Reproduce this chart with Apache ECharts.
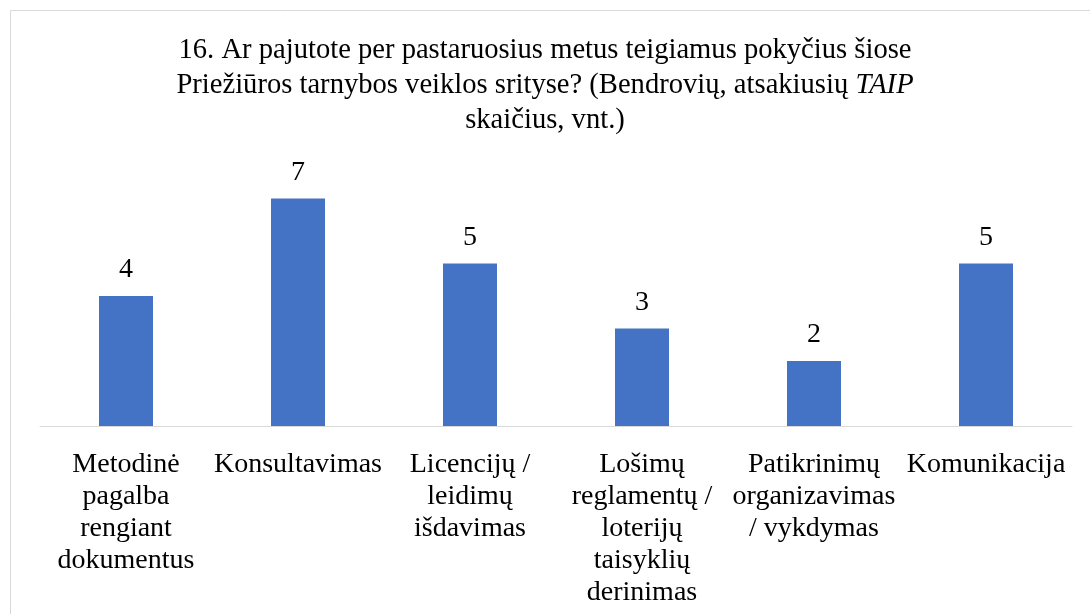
<!DOCTYPE html>
<html>
<head>
<meta charset="utf-8">
<script src="https://cdn.jsdelivr.net/npm/echarts@6/dist/echarts.min.js"></script>
<style>
  html, body { margin: 0; padding: 0; background: #fff; }
  #chart { width: 1090px; height: 614px; }
</style>
</head>
<body>
<div id="chart"></div>
<script>
var categories = [
  'Metodinė\npagalba\nrengiant\ndokumentus',
  'Konsultavimas',
  'Licencijų /\nleidimų\nišdavimas',
  'Lošimų\nreglamentų /\nloterijų\ntaisyklių\nderinimas',
  'Patikrinimų\norganizavimas\n/ vykdymas',
  'Komunikacija'
]
var values = [4, 7, 5, 3, 2, 5]

var FONT = '"Liberation Serif", "Times New Roman", serif'

var chart = echarts.init(document.getElementById('chart'))
chart.setOption({
  backgroundColor: '#fff',
  animation: false,
  graphic: [
    {
      type: 'rect',
      shape: { x: 10.5, y: 10.5, width: 1200, height: 800 },
      style: { fill: 'none', stroke: '#d9d9d9', lineWidth: 1 },
      z: -1
    }
  ],
  title: {
    text: '16. Ar pajutote per pastaruosius metus teigiamus pokyčius šiose\n' +
      'Priežiūros tarnybos veiklos srityse? (Bendrovių, atsakiusių {i|TAIP}\n' +
      'skaičius, vnt.)',
    left: 'center',
    top: 28,
    textStyle: {
      fontFamily: FONT,
      fontSize: 28.6,
      fontWeight: 'normal',
      color: '#000',
      lineHeight: 35,
      rich: {
        i: { fontFamily: FONT, fontSize: 28.6, fontStyle: 'italic', color: '#000', lineHeight: 35 }
      }
    }
  },
  grid: {
    left: 40,
    right: 18,
    top: 166,
    bottom: 188
  },
  xAxis: {
    type: 'category',
    data: categories,
    axisLine: { lineStyle: { color: '#d9d9d9', width: 1 } },
    axisTick: { show: false },
    axisLabel: {
      interval: 0,
      margin: 23,
      fontFamily: FONT,
      fontSize: 28,
      lineHeight: 32,
      color: '#000',
      align: 'center'
    }
  },
  yAxis: {
    type: 'value',
    min: 0,
    max: 8,
    interval: 1,
    show: false,
    splitLine: { show: false }
  },
  series: [
    {
      type: 'bar',
      data: values,
      barWidth: 54,
      itemStyle: { color: '#4472C4' },
      label: {
        show: true,
        position: 'top',
        distance: 12,
        fontFamily: FONT,
        fontSize: 28,
        color: '#000'
      }
    }
  ]
})
</script>
</body>
</html>
